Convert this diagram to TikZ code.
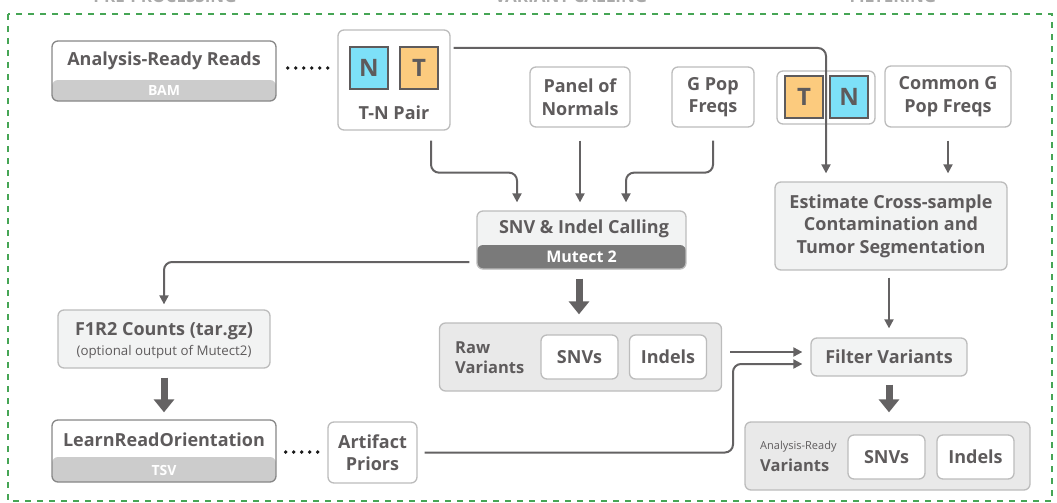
\documentclass[tikz,border=0pt]{standalone}
\usepackage{fontspec}
\setmainfont{Open Sans}
\usetikzlibrary{arrows.meta}
\definecolor{txt}{RGB}{94,91,92}
\definecolor{bord}{RGB}{188,188,188}
\definecolor{bord2}{RGB}{135,135,135}
\definecolor{lightfill}{RGB}{242,243,243}
\definecolor{groupfill}{RGB}{233,233,233}
\definecolor{bandlight}{RGB}{204,204,204}
\definecolor{banddark}{RGB}{122,122,122}
\definecolor{linec}{RGB}{100,98,99}
\definecolor{cyanc}{RGB}{125,224,248}
\definecolor{orangec}{RGB}{252,203,126}
\definecolor{greenc}{RGB}{70,165,85}
\definecolor{hdrc}{RGB}{170,170,170}
\newcommand{\lblfont}{\bfseries\fontsize{18}{22.5}\selectfont}
\newcommand{\smallbold}{\bfseries\fontsize{14}{16}\selectfont}
\begin{document}
\begin{tikzpicture}[x=1pt,y=-1pt,
  box/.style={draw=bord, line width=1.3pt, rounded corners=6pt, fill=white, inner sep=0pt, text=txt, font=\lblfont, align=center},
  lbox/.style={box, fill=lightfill},
  grp/.style={box, fill=groupfill},
  sq/.style={draw=txt, line width=1.5pt, inner sep=0pt, minimum width=38pt, minimum height=42pt, text=txt, font=\bfseries\fontsize{24}{24}\selectfont},
  lbl/.style={inner sep=0pt, text=txt, font=\lblfont, align=center},
  conn/.style={draw=linec, line width=2pt, rounded corners=8pt, -{Triangle[width=9pt,length=9pt]}},
  thick/.style={draw=linec, line width=7pt, -{Triangle[width=20pt,length=13pt]}},
  dotline/.style={draw=black!90, line width=3.8pt, line cap=round, dash pattern=on 0pt off 8pt},
  hdr/.style={inner sep=0pt, text=hdrc, font=\bfseries\fontsize{17}{17}\selectfont, anchor=base}
]
\useasboundingbox (0,0) rectangle (1057,503);
\begin{scope}
\clip (0,0) rectangle (1057,503);
\node[hdr] (h1) at (165,3) {PRE-PROCESSING};
\node[hdr] (h2) at (571,3) {VARIANT CALLING};
\node[hdr] (h3) at (893,3) {FILTERING};
\end{scope}
\draw[greenc, line width=1.5pt, dash pattern=on 6pt off 6pt] (8,14) rectangle (1052,501);

% top row
\node[box, draw=bord2, minimum width=224pt, minimum height=60pt,
  path picture={\fill[bandlight] ([yshift=21pt]path picture bounding box.south west) rectangle (path picture bounding box.south east);}] (reads) at (164,71) {};
\node[lbl] (readsT) at (164,61) {Analysis-Ready Reads};
\node[lbl, text=white, font=\smallbold] (readsB) at (164,90.5) {BAM};

\node[box, minimum width=112pt, minimum height=100pt] (tnpair) at (394,80) {};
\node[sq, fill=cyanc] (n1) at (369,68) {N};
\node[sq, fill=orangec] (t1) at (419,68) {T};
\node[lbl] (tnpairT) at (394,113) {T-N Pair};

\node[box, minimum width=100pt, minimum height=60pt] (pon) at (580,97) {Panel of\\Normals};
\node[box, minimum width=82pt, minimum height=60pt] (gpop) at (713,97) {G Pop\\Freqs};
\node[box, minimum width=98pt, minimum height=53pt] (tn2) at (826,97.5) {};
\node[box, minimum width=126pt, minimum height=61pt] (common) at (948,96.5) {Common G\\Pop Freqs};

% middle
\node[lbox, minimum width=209pt, minimum height=58pt,
  path picture={\fill[banddark] ([yshift=24pt]path picture bounding box.south west) rectangle (path picture bounding box.south east);}] (snv) at (581.5,240) {};
\node[lbl] (snvT) at (584,229) {SNV \& Indel Calling};
\node[lbl, text=white, font=\bfseries\fontsize{16}{18}\selectfont] (snvB) at (581.5,257) {Mutect 2};

\node[lbox, minimum width=232pt, minimum height=88pt] (est) at (891,226) {Estimate Cross-sample\\Contamination and\\Tumor Segmentation};

\node[lbox, minimum width=212pt, minimum height=58pt] (f1r2) at (164,339) {};
\node[lbl] (f1r2T) at (164,331) {F1R2 Counts (tar.gz)};
\node[lbl, font=\fontsize{13.3}{15}\selectfont] (f1r2S) at (164,352) {(optional output of Mutect2)};

\node[grp, minimum width=282pt, minimum height=68pt] (raw) at (580.5,357) {};
\node[lbl, anchor=west, align=left, font=\bfseries\fontsize{16.5}{20}\selectfont] (rawT) at (455,358) {Raw\\Variants};
\node[box, minimum width=77pt, minimum height=44pt] (rawsnv) at (579.5,357) {SNVs};
\node[box, minimum width=77pt, minimum height=44pt] (rawind) at (668,357) {Indels};

\node[lbox, minimum width=156pt, minimum height=38pt] (filter) at (889,357) {Filter Variants};

% bottom
\node[box, draw=bord2, minimum width=224pt, minimum height=62pt,
  path picture={\fill[bandlight] ([yshift=25pt]path picture bounding box.south west) rectangle (path picture bounding box.south east);}] (learn) at (164,451) {};
\node[lbl] (learnT) at (164,440) {LearnReadOrientation};
\node[lbl, text=white, font=\smallbold] (learnB) at (164,470) {TSV};

\node[box, minimum width=89pt, minimum height=61pt] (artifact) at (372.5,452.5) {Artifact\\Priors};

\node[grp, minimum width=285pt, minimum height=68pt] (arv) at (887.5,456) {};
\node[lbl, anchor=west, font=\fontsize{11}{12}\selectfont] (arvS) at (760,447) {Analysis-Ready};
\node[lbl, anchor=west, font=\bfseries\fontsize{16.5}{20}\selectfont] (arvT) at (760,465) {Variants};
\node[box, minimum width=77pt, minimum height=44pt] (arvsnv) at (886.5,457) {SNVs};
\node[box, minimum width=77pt, minimum height=44pt] (arvind) at (975.5,457) {Indels};

% connectors
\draw[dotline] ([xshift=11pt,yshift=3pt]reads.east) -- ([xshift=-8pt,yshift=12pt]tnpair.west);
\draw[dotline] ([xshift=9pt,yshift=-1pt]learn.east) -- ([xshift=-7pt,yshift=0.5pt]artifact.west);

\draw[conn, shorten >=8pt] ([xshift=37pt,yshift=-10pt]tnpair.south) -- ++(0,32) -| ([xshift=-64.5pt]snv.north);
\draw[conn, shorten <=13pt, shorten >=8pt] (pon.south) -- (pon.south |- snv.north);
\draw[conn, shorten >=8pt] ([yshift=-13pt]gpop.south) -- ++(0,32) -| ([xshift=44.5pt]snv.north);
\draw[conn, shorten >=8pt] ([xshift=3pt,yshift=32pt]tnpair.east) -| ([xshift=-65pt]est.north);
\draw[conn, shorten <=13pt, shorten >=8pt] (common.south) -- (common.south |- est.north);
\draw[conn, shorten <=7pt, shorten >=5pt] ([yshift=-22pt]snv.west) -| (f1r2.north);
\draw[thick, shorten <=9pt, shorten >=8pt] ([xshift=-2.5pt]snv.south) -- ([xshift=-2.5pt]snv.south |- raw.north);
\draw[conn, shorten <=7pt, shorten >=9pt] (filter.north |- est.south) -- (filter.north);
\draw[conn, shorten <=8pt, shorten >=8pt] ([yshift=5pt]raw.east) -- ([yshift=5pt]filter.west);
\coordinate (fvin) at ([yshift=-7pt]filter.west);
\coordinate (bend) at (733,0);
\draw[conn, shorten <=7pt, shorten >=8pt] (artifact.east) -- (artifact.east -| bend) -- (bend |- fvin) -- (fvin);
\draw[thick, shorten <=8pt, shorten >=9pt] (filter.south) -- (filter.south |- arv.north);
\draw[thick, shorten <=9pt, shorten >=7pt] (f1r2.south) -- (learn.north);

% T N squares drawn over the connector
\node[sq, fill=orangec] (t2) at (804,97) {T};
\node[sq, fill=cyanc] (n2) at (849,97) {N};
\end{tikzpicture}
\end{document}
